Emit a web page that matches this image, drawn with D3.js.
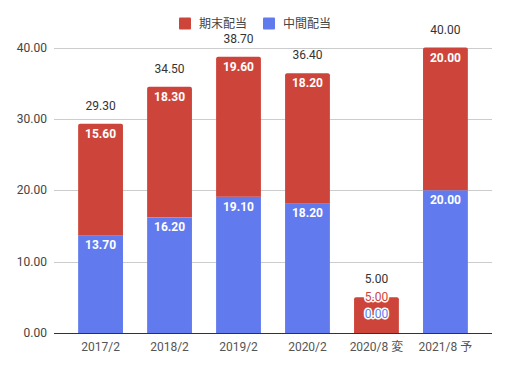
<!DOCTYPE html>
<html>
<head>
<meta charset="utf-8">
<script src="https://cdn.jsdelivr.net/npm/d3@7"></script>
<style>
  body { margin: 0; background: #fff; }
  svg text { font-family: Roboto, "Noto Sans CJK JP", sans-serif; }
</style>
</head>
<body>
<div id="chart"></div>
<script>
const w = 509;
const h = 368;

const categories = ["2017/2", "2018/2", "2019/2", "2020/2", "2020/8 変", "2021/8 予"];
const interim = [13.70, 16.20, 19.10, 18.20, 0.00, 20.00];   // 中間配当
const yearEnd = [15.60, 18.30, 19.60, 18.20, 5.00, 20.00];   // 期末配当
const totals = [29.30, 34.50, 38.70, 36.40, 5.00, 40.00];
const yTicks = [0, 10, 20, 30, 40];

const red = "#cd453a";
const blue = "#617bee";

const svg = d3.select("#chart").append("svg")
  .attr("width", w)
  .attr("height", h);

const x = d3.scaleBand()
  .domain(categories)
  .range([54, 492])
  .padding(0.35);

const y = d3.scaleLinear()
  .domain([0, 40])
  .range([333, 47.5]);

// gridlines
svg.append("g")
  .selectAll("line")
  .data(yTicks.filter(d => d > 0))
  .enter()
  .append("line")
  .attr("x1", 54).attr("x2", 492)
  .attr("y1", d => Math.round(y(d)) + 0.5)
  .attr("y2", d => Math.round(y(d)) + 0.5)
  .style("stroke", "#cccccc");

// y axis labels
svg.append("g")
  .selectAll("text")
  .data(yTicks)
  .enter()
  .append("text")
  .attr("x", 47)
  .attr("y", d => y(d) + 4)
  .attr("text-anchor", "end")
  .style("font-size", "12px")
  .style("fill", "#444")
  .text(d => d.toFixed(2));

// x axis labels
svg.append("g")
  .selectAll("text")
  .data(categories)
  .enter()
  .append("text")
  .attr("x", d => x(d) + x.bandwidth() / 2)
  .attr("y", 351)
  .attr("text-anchor", "middle")
  .style("font-size", "12px")
  .style("fill", "#555")
  .text(d => d);

// rounded-top rectangle path
function topRounded(x0, y0, wd, ht, r) {
  r = Math.min(r, ht);
  return "M" + x0 + "," + (y0 + ht) +
    "V" + (y0 + r) +
    "Q" + x0 + "," + y0 + " " + (x0 + r) + "," + y0 +
    "H" + (x0 + wd - r) +
    "Q" + (x0 + wd) + "," + y0 + " " + (x0 + wd) + "," + (y0 + r) +
    "V" + (y0 + ht) + "Z";
}

const bars = svg.append("g");
categories.forEach((c, i) => {
  const x0 = x(c);
  const bw = x.bandwidth();
  // interim (bottom)
  if (interim[i] > 0) {
    bars.append("rect")
      .attr("x", x0)
      .attr("y", y(interim[i]))
      .attr("width", bw)
      .attr("height", y(0) - y(interim[i]))
      .style("fill", blue);
  }
  // year end (top)
  const yt = y(interim[i] + yearEnd[i]);
  bars.append("path")
    .attr("d", topRounded(x0, yt, bw, y(interim[i]) - yt, 2))
    .style("fill", red);
});

// baseline
svg.append("line")
  .attr("x1", 54).attr("x2", 492)
  .attr("y1", 333.5).attr("y2", 333.5)
  .style("stroke", "#333");

// segment labels
const labels = svg.append("g");
categories.forEach((c, i) => {
  const cx = x(c) + x.bandwidth() / 2;
  const fits = interim[i] >= 2 && yearEnd[i] >= 2;
  if (fits) {
    labels.append("text")
      .attr("x", cx).attr("y", y(interim[i] + yearEnd[i]) + 14)
      .attr("text-anchor", "middle")
      .style("font-size", "12px").style("font-weight", "bold").style("fill", "#fff")
      .text(yearEnd[i].toFixed(2));
    labels.append("text")
      .attr("x", cx).attr("y", y(interim[i]) + 14)
      .attr("text-anchor", "middle")
      .style("font-size", "12px").style("font-weight", "bold").style("fill", "#fff")
      .text(interim[i].toFixed(2));
  } else {
    const top = y(interim[i] + yearEnd[i]);
    [[yearEnd[i], red, top + 4], [interim[i], blue, top + 21]].forEach(([v, col, yy]) => {
      labels.append("text")
        .attr("x", cx).attr("y", yy)
        .attr("text-anchor", "middle")
        .style("font-size", "12px")
        .style("fill", col)
        .style("stroke", "#fff").style("stroke-width", 3)
        .style("paint-order", "stroke")
        .text(v.toFixed(2));
    });
  }
  // totals
  labels.append("text")
    .attr("x", cx).attr("y", y(totals[i]) - 14)
    .attr("text-anchor", "middle")
    .style("font-size", "12px").style("fill", "#333")
    .text(totals[i].toFixed(2));
});

// legend
const legendItems = [["期末配当", red, 179], ["中間配当", blue, 263]];
const legend = svg.append("g");
legendItems.forEach(([name, col, lx]) => {
  legend.append("rect")
    .attr("x", lx).attr("y", 17.5)
    .attr("width", 12).attr("height", 12)
    .attr("rx", 1)
    .style("fill", col);
  legend.append("text")
    .attr("x", lx + 20).attr("y", 28)
    .style("font-size", "12px").style("fill", "#444")
    .text(name);
});
</script>
</body>
</html>
